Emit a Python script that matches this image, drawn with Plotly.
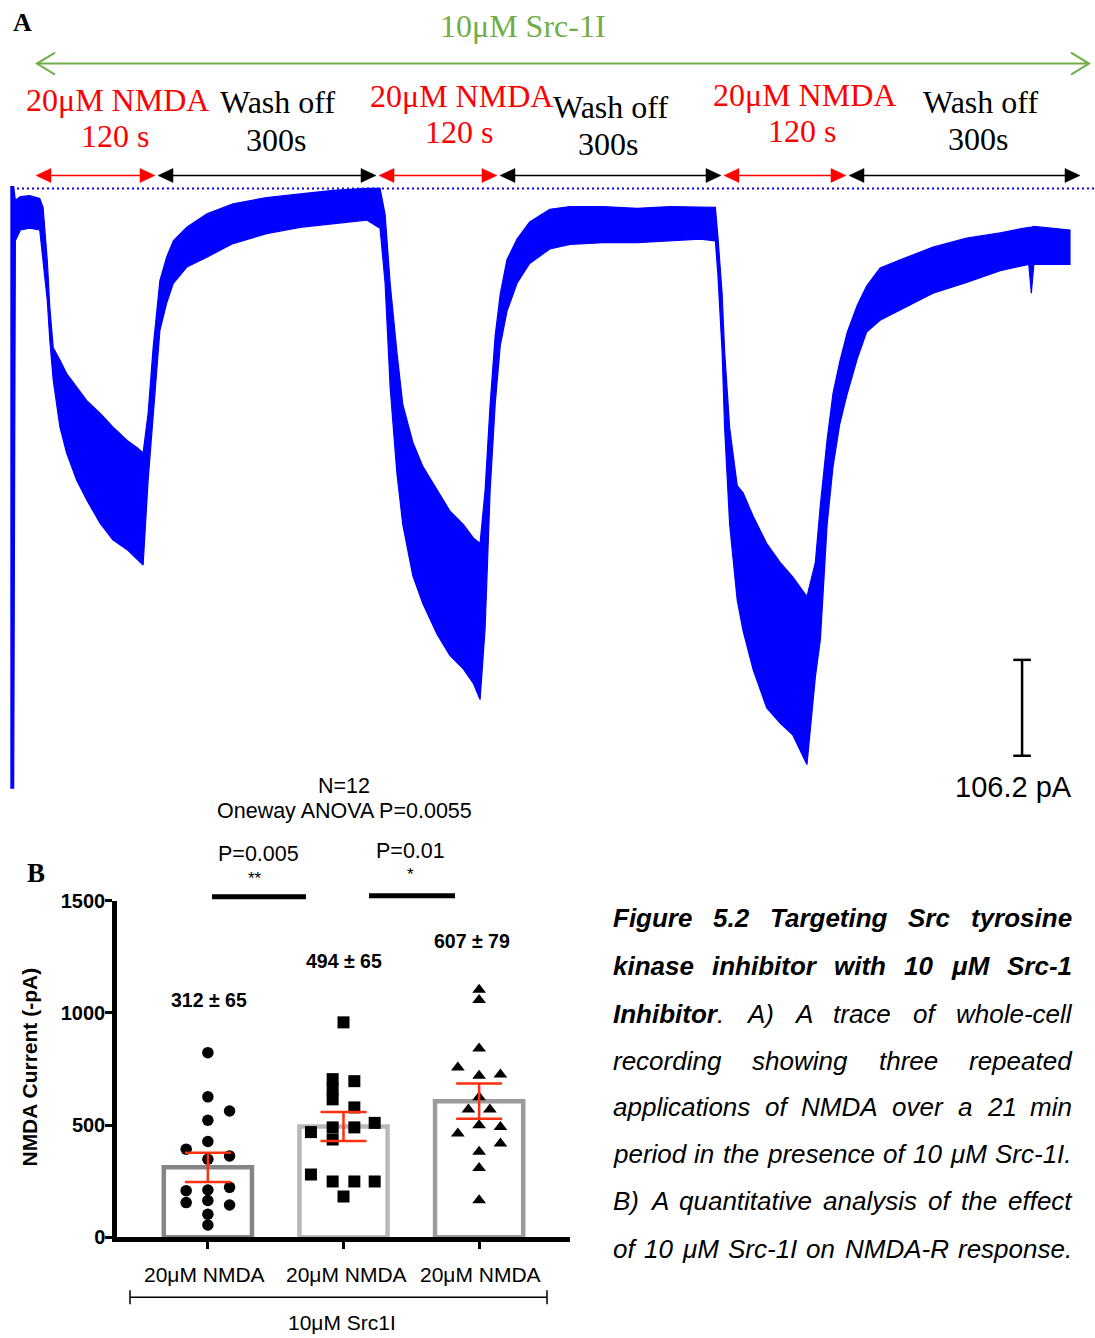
import plotly.graph_objects as go

W, H = 1095, 1338
SERIF = "Liberation Serif, Times New Roman, serif"
SANS = "Liberation Sans, Arial, sans-serif"

# ---------------- Panel A: whole-cell NMDA current (envelope of the noisy trace) ----------------
time_s = [-2, 2, 4, 10, 21, 33, 37, 42, 45, 49, 57, 65, 77, 89, 105, 120, 137, 149, 156, 162,
          168, 176, 184, 192, 208, 232, 263, 303, 343, 382, 422, 438,
          444, 450, 458, 465, 477, 489, 506, 521, 537, 549, 557, 563, 569, 575, 581, 589, 601,
          616, 640, 664, 703, 744, 783, 819, 837,
          840, 845, 848, 854, 863, 870, 882, 898, 914, 929, 946, 956, 962, 970, 977, 985, 994,
          1006, 1017, 1033, 1057, 1096, 1136, 1176, 1210, 1213, 1216, 1259]
current_top_pA = [2, 2, -13, -9, -8, -11, -21, -80, -132, -176, -190, -205, -220, -235, -249, -264,
                  -279, -287, -293, -249, -176, -102, -76, -58, -43, -28, -17, -10, -6, -2, 0, 0,
                  -29, -105, -181, -239, -281, -308, -334, -357, -372, -387, -393, -334, -239, -163,
                  -117, -79, -56, -37, -23, -20, -20, -22, -20, -21, -21,
                  -53, -116, -180, -265, -329, -337, -363, -393, -414, -430, -452, -414, -350, -278,
                  -227, -192, -159, -129, -108, -88, -79, -65, -55, -49, -43, -43, -42, -46]
current_bottom_pA = [-664, -664, -58, -46, -44, -46, -80, -124, -168, -212, -264, -293, -323, -345,
                     -371, -389, -400, -411, -417, -323, -249, -157, -127, -105, -87, -76, -61, -50,
                     -43, -39, -35, -44,
                     -105, -220, -315, -372, -429, -460, -494, -517, -532, -548, -566, -487, -334,
                     -239, -174, -136, -105, -83, -67, -62, -60, -60, -58, -56, -58,
                     -95, -180, -265, -372, -456, -490, -533, -575, -592, -605, -638, -541, -499,
                     -372, -308, -261, -227, -188, -159, -146, -134, -116, -104, -91, -84, -116, -84,
                     -84]
scale_bar_pA = 106.2
scale_bar_time_s = 1202
scale_bar_top_pA = -522

# ---------------- Panel B: NMDA current amplitudes ----------------
conditions = ["20μM NMDA", "20μM NMDA", "20μM NMDA"]
mean_pA = [312, 494, 607]
sem_pA = [65, 65, 79]
mean_labels = ["312 ± 65", "494 ± 65", "607 ± 79"]

cells_1 = [823, 626, 563, 522, 427, 393, 363, 348, 208, 211, 223, 155, 164, 144, 103, 55]
jitter_1 = [0, 0, 0.16, 0, 0, -0.16, 0.16, 0, -0.16, 0, 0.16, -0.16, 0, 0.16, 0, 0]
cells_2 = [958, 705, 660, 615, 696, 579, 510, 490, 490, 469, 436, 280, 249, 249, 249, 182]
jitter_2 = [0, -0.08, -0.08, -0.08, 0.08, 0.08, 0.23, -0.08, 0.08, -0.24, -0.08, -0.24, -0.08,
            0.08, 0.23, 0]
cells_3 = [1103, 1058, 842, 757, 720, 726, 624, 570, 570, 500, 492, 463, 418, 381, 309, 165]
jitter_3 = [0, 0, 0, -0.157, 0, 0.157, 0, -0.079, 0.079, 0, 0.157, -0.157, 0.157, 0, 0, 0]

y_ticks = [0, 500, 1000, 1500]

# ---------------- figure caption ----------------
caption = [
    [[("Figure", 1)], [("5.2", 1)], [("Targeting", 1)], [("Src", 1)], [("tyrosine", 1)]],
    [[("kinase", 1)], [("inhibitor", 1)], [("with", 1)], [("10", 1)], [("μM", 1)], [("Src-1", 1)]],
    [[("Inhibitor", 1), (".", 0)], [("A)", 0)], [("A", 0)], [("trace", 0)], [("of", 0)],
     [("whole-cell", 0)]],
    [[(w, 0)] for w in "recording showing three repeated".split()],
    [[(w, 0)] for w in "applications of NMDA over a 21 min".split()],
    [[(w, 0)] for w in "period in the presence of 10 μM Src-1I.".split()],
    [[(w, 0)] for w in "B) A quantitative analysis of the effect".split()],
    [[(w, 0)] for w in "of 10 μM Src-1I on NMDA-R response.".split()],
]

# Arial / Liberation Sans advance widths (1/1000 em), used to justify the caption
_REG = dict(zip("abcdefghijklmnopqrstuvwxyz",
                [556, 556, 500, 556, 556, 278, 556, 556, 222, 222, 500, 222, 833, 556, 556, 556,
                 556, 333, 500, 278, 556, 500, 722, 500, 500, 500]))
_REG.update(dict(zip("ABCDEFGHIJKLMNOPQRSTUVWXYZ",
                     [667, 667, 722, 722, 667, 611, 778, 722, 278, 500, 667, 556, 833, 722, 778,
                      667, 778, 722, 667, 611, 722, 667, 944, 667, 667, 611])))
_BOLD = dict(zip("abcdefghijklmnopqrstuvwxyz",
                 [556, 611, 556, 611, 556, 333, 611, 611, 278, 278, 556, 278, 889, 611, 611, 611,
                  611, 389, 556, 333, 611, 556, 778, 556, 556, 500]))
_BOLD.update(dict(zip("ABCDEFGHIJKLMNOPQRSTUVWXYZ",
                      [722, 722, 722, 722, 667, 611, 778, 722, 278, 556, 722, 611, 833, 722, 778,
                       667, 778, 722, 667, 611, 722, 667, 944, 667, 667, 611])))
for _t, _mu in ((_REG, 576), (_BOLD, 611)):
    _t.update({c: 556 for c in "0123456789"})
    _t.update({".": 278, "-": 333, "(": 333, ")": 333, " ": 278, "μ": _mu})


def word_width(parts, size):
    return sum((_BOLD if b else _REG).get(c, 556) for s, b in parts for c in s) * size / 1000


# ---------------- coordinate helpers ----------------
def px(x):
    return x / W


def Y(y):
    # page row of the rendered layout for a target row
    return (y - 10.34) / 0.9846


def py(y):
    return 1 - Y(y) / H


S_PER_PX, T0_PX = 1.19, 12
PX_PER_PA, BASE_PX = 0.904, 188

fig = go.Figure()

# recording envelope, drawn as one filled band
fig.add_trace(go.Scatter(
    x=time_s + time_s[::-1],
    y=current_top_pA + current_bottom_pA[::-1],
    fill="toself", fillcolor="#0000ff", mode="lines",
    line=dict(color="#0000ff", width=1.2),
    xaxis="x", yaxis="y", hoverinfo="skip", showlegend=False))

# bars
bar_x = list(range(len(conditions)))
fig.add_trace(go.Bar(
    x=bar_x, y=mean_pA, width=0.65,
    marker=dict(color="white", line=dict(color=["#858585", "#b8b8b8", "#9c9c9c"], width=4.5)),
    xaxis="x2", yaxis="y2", showlegend=False, hoverinfo="skip"))

# individual cells
for i, (vals, jit, sym, sz) in enumerate([
        (cells_1, jitter_1, "circle", 11.5),
        (cells_2, jitter_2, "square", 12),
        (cells_3, jitter_3, "triangle-up", 12)]):
    fig.add_trace(go.Scatter(
        x=[i + j for j in jit], y=vals, mode="markers",
        marker=dict(symbol=sym, size=sz, color="black", line=dict(width=0)),
        xaxis="x2", yaxis="y2", showlegend=False, cliponaxis=False, hoverinfo="skip"))

# mean ± SEM error bars
fig.add_trace(go.Scatter(
    x=bar_x, y=mean_pA, mode="markers", marker=dict(size=1, color="rgba(0,0,0,0)"),
    error_y=dict(type="data", array=sem_pA, color="#ff3010", thickness=2.5, width=23),
    xaxis="x2", yaxis="y2", showlegend=False, hoverinfo="skip"))

shapes = []
annotations = []


def text(s, x, y, size, color="black", family=SANS, xanchor="center", angle=0):
    annotations.append(dict(text=s, x=px(x), y=py(y), xref="paper", yref="paper",
                            showarrow=False, xanchor=xanchor, yanchor="middle",
                            textangle=angle,
                            font=dict(size=size, color=color, family=family)))


def seg(x0, y0, x1, y1, color="black", width=1.5, dash=None):
    line = dict(color=color, width=width)
    if dash:
        line["dash"] = dash
    shapes.append(dict(type="line", xref="paper", yref="paper",
                       x0=px(x0), y0=py(y0), x1=px(x1), y1=py(y1), line=line))


def poly(points, color, fill=True, width=1.5):
    d = "M " + " L ".join(f"{px(a):.5f},{py(b):.5f}" for a, b in points)
    if fill:
        d += " Z"
    shapes.append(dict(type="path", xref="paper", yref="paper", path=d,
                       fillcolor=color if fill else "rgba(0,0,0,0)",
                       line=dict(color=color, width=width if not fill else 0.5)))


def double_arrow(x0, x1, y, color):
    hl, hh = 15, 7
    seg(x0 + 4, y, x1 - 4, y, color=color, width=1.6)
    poly([(x0, y), (x0 + hl, y - hh), (x0 + hl, y + hh)], color)
    poly([(x1, y), (x1 - hl, y - hh), (x1 - hl, y + hh)], color)


# ---- Panel A decorations ----
text("<b>A</b>", 22, 22, 26, family=SERIF)
text("10μM Src-1I", 523, 25, 32, color="#70ad47", family=SERIF)
seg(37, 63, 1089, 63, color="#70ad47", width=2)
poly([(55, 52), (37, 63), (55, 74)], "#70ad47", fill=False, width=2)
poly([(1071, 52), (1089, 63), (1071, 74)], "#70ad47", fill=False, width=2)

for lab, x, y, col in [("20μM NMDA", 117, 99, "red"), ("120 s", 115, 135, "red"),
                       ("Wash off", 277, 101, "black"), ("300s", 276, 139, "black"),
                       ("20μM NMDA", 461, 95, "red"), ("120 s", 459, 131, "red"),
                       ("Wash off", 610, 106, "black"), ("300s", 608, 143, "black"),
                       ("20μM NMDA", 804, 94, "red"), ("120 s", 802, 130, "red"),
                       ("Wash off", 980, 101, "black"), ("300s", 978, 138, "black")]:
    text(lab, x, y, 32, color=col, family=SERIF)

for x0, x1, col in [(36, 155, "red"), (158, 376, "black"), (379, 497, "red"),
                    (500, 721, "black"), (724, 846, "red"), (849, 1080, "black")]:
    double_arrow(x0, x1, 175, col)

# baseline reference (0 pA)
shapes.append(dict(type="line", xref="x", yref="y", x0=0, x1=(W - T0_PX) * S_PER_PX,
                   y0=0, y1=0, line=dict(color="#0000ff", width=2, dash="2px,3px")))

# scale bar
cap = 10.5
shapes.append(dict(type="line", xref="x", yref="y", x0=scale_bar_time_s, x1=scale_bar_time_s,
                   y0=scale_bar_top_pA, y1=scale_bar_top_pA - scale_bar_pA,
                   line=dict(color="black", width=2.5)))
for yy in (scale_bar_top_pA, scale_bar_top_pA - scale_bar_pA):
    shapes.append(dict(type="line", xref="x", yref="y", x0=scale_bar_time_s - cap,
                       x1=scale_bar_time_s + cap, y0=yy, y1=yy,
                       line=dict(color="black", width=2.5)))
text(f"{scale_bar_pA} pA", 1013, 787, 29)

# ---- Panel B decorations ----
text("<b>B</b>", 36, 873, 27, family=SERIF)
text("N=12", 344, 786, 21.5)
text("Oneway ANOVA P=0.0055", 344, 811, 21.5)
text("P=0.005", 258, 854, 21.5)
text("**", 255, 879, 17)
text("P=0.01", 410, 851, 21.5)
text("*", 410, 875, 17)
seg(212, 897, 306, 897, width=5)
seg(369, 896, 455, 896, width=5)

for lab, xc, yc in zip(mean_labels, [209, 344, 472], [1000, 961, 941]):
    text(f"<b>{lab}</b>", xc, yc, 19.5)
for lab, xc in zip(conditions, [204, 346, 480]):
    text(lab, xc, 1275, 21)
seg(130, 1298, 547, 1298, width=1.5)
seg(130, 1291, 130, 1305, width=1.5)
seg(547, 1291, 547, 1305, width=1.5)
text("10μM Src1I", 342, 1323, 21)
text("<b>NMDA Current (-pA)</b>", 30, 1068, 21, angle=-90)

# ---- Figure caption, fully justified between two margins ----
CAP_L, CAP_R, CAP_SIZE = 611, 1070, 26
cap_rows = [918, 966, 1014, 1061, 1108, 1155, 1202, 1250]
for row, words in zip(cap_rows, caption):
    widths = [word_width(w, CAP_SIZE) for w in words]
    gap = (CAP_R - CAP_L - sum(widths)) / (len(words) - 1)
    xl = CAP_L
    for w, wd in zip(words, widths):
        html = "".join(f"<b><i>{s}</i></b>" if b else f"<i>{s}</i>" for s, b in w)
        text(html, xl, row, CAP_SIZE, xanchor="left")
        xl += wd + gap

hidden = dict(visible=False, showgrid=False, zeroline=False, fixedrange=True)
fig.update_layout(
    width=W, height=H, margin=dict(l=0, r=0, t=0, b=0), autosize=False,
    paper_bgcolor="white", plot_bgcolor="rgba(0,0,0,0)",
    font=dict(family=SANS, color="black"),
    xaxis=dict(domain=[0, 1], range=[(0 - T0_PX) * S_PER_PX, (W - T0_PX) * S_PER_PX], **hidden),
    yaxis=dict(domain=[py(800), py(180)],
               range=[-(800 - BASE_PX) / PX_PER_PA, -(180 - BASE_PX) / PX_PER_PA], **hidden),
    xaxis2=dict(domain=[px(117), px(570)], range=[-0.67, 2.67], anchor="y2",
                showline=True, linecolor="black", linewidth=4.5, ticks="outside",
                ticklen=7, tickwidth=3, tickcolor="black", tickvals=bar_x,
                showticklabels=False, showgrid=False, zeroline=False, fixedrange=True),
    yaxis2=dict(domain=[py(1238), py(901)], range=[0, 1500], anchor="x2",
                showline=True, linecolor="black", linewidth=4.5, ticks="outside",
                ticklen=7, tickwidth=3, tickcolor="black", tickvals=y_ticks,
                ticktext=[f"<b>{v}</b>" for v in y_ticks], ticklabelstandoff=-4,
                tickfont=dict(size=20, family=SANS, color="black"),
                showgrid=False, zeroline=False, fixedrange=True),
    shapes=shapes, annotations=annotations, bargap=0.36,
)

fig.write_html("out.html")
